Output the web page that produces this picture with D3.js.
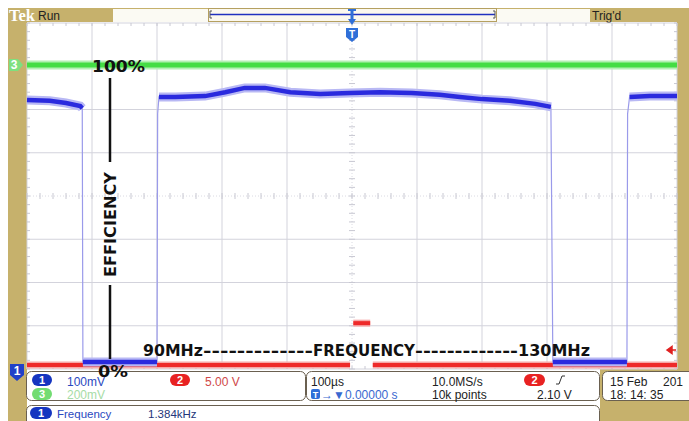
<!DOCTYPE html>
<html><head><meta charset="utf-8">
<script src="https://cdn.jsdelivr.net/npm/d3@7"></script>
<style>html,body{margin:0;padding:0;background:#fff;}svg{display:block;}</style>
</head><body>
<script>
// ---- data (time in µs, level in screen divisions) ----
const ch1Time = [0, 35, 60, 82, 85, 86, 200, 201, 203, 228, 274, 305, 335, 366, 405, 451, 497, 543, 592, 635, 666, 700, 743, 782, 806, 809, 923, 924, 927, 958, 1000];
const ch1Div  = [2.22, 2.20, 2.15, 2.08, 2.03, -3.84, -3.84, 1.9, 2.29, 2.29, 2.31, 2.40, 2.50, 2.50, 2.40, 2.36, 2.38, 2.40, 2.38, 2.34, 2.29, 2.24, 2.20, 2.13, 2.06, -3.84, -3.84, 1.9, 2.29, 2.31, 2.31];
const ch1Seg  = [0, 0, 0, 0, 0, 1, 1, -1, 2, 2, 2, 2, 2, 2, 2, 2, 2, 2, 2, 2, 2, 2, 2, 2, 2, 3, 3, -1, 4, 4, 4];
const ch2Time = [0, 497, 502, 528, 532, 1000];
const ch2Div  = [-3.91, -3.91, -2.94, -2.94, -3.91, -3.91];
const ch2Seg  = [0, 0, 1, 1, 2, 2];
const ch3Time = [0, 1000];
const ch3Div  = [3.03, 3.03];
const divX = [0, 100, 200, 300, 400, 500, 600, 700, 800, 900, 1000];
const divY = [-4, -3, -2, -1, 0, 1, 2, 3, 4];
const freqParts = ["90MHz", "-------------", "FREQUENCY", "-------------", "130MHz"];

const W = 689, H = 421;
const gold = "#c6b16c";
const svg = d3.select("body").append("svg").attr("width", W).attr("height", H);
const x = d3.scaleLinear().domain([0, 1000]).range([27, 677]);
const y = d3.scaleLinear().domain([-4, 4]).range([369, 23]);
const F = "'Liberation Sans', Arial, sans-serif";

// frame
svg.append("rect").attr("x", 8).attr("y", 8).attr("width", W - 8).attr("height", 14).attr("fill", gold);
svg.append("rect").attr("x", 8).attr("y", 8).attr("width", 19).attr("height", H - 8).attr("fill", gold);
svg.append("rect").attr("x", 677).attr("y", 8).attr("width", 12).attr("height", 364).attr("fill", gold);
svg.append("rect").attr("x", 600).attr("y", 369).attr("width", 89).attr("height", 52).attr("fill", gold);
// top bar boxes
svg.append("rect").attr("x", 113).attr("y", 9).attr("width", 95).attr("height", 13).attr("fill", "#fbfaf3");
svg.append("rect").attr("x", 208.5).attr("y", 8.5).attr("width", 288).attr("height", 13).attr("fill", "#fbf8ee").attr("stroke", "#b5a060");
svg.append("rect").attr("x", 497).attr("y", 9).attr("width", 93).attr("height", 13).attr("fill", "#fbfaf3");
svg.append("line").attr("x1", 210).attr("x2", 495).attr("y1", 14.5).attr("y2", 14.5).attr("stroke", "#2030c0").attr("stroke-width", 1.3);
svg.append("path").attr("d", "M212,11 L210,11 L210,18 L212,18 M493,11 L495,11 L495,18 L493,18").attr("fill", "none").attr("stroke", "#555").attr("stroke-width", 1);
svg.append("text").attr("x", 9).attr("y", 21).text("Tek").attr("font-family", "'Liberation Serif', serif").attr("font-weight", "bold").attr("font-size", 16).attr("fill", "#fff").attr("textLength", 26).attr("lengthAdjust", "spacingAndGlyphs");
svg.append("text").attr("x", 38).attr("y", 20).text("Run").attr("font-family", F).attr("font-size", 12).attr("fill", "#222");
svg.append("text").attr("x", 592).attr("y", 20).text("Trig'd").attr("font-family", F).attr("font-size", 12).attr("fill", "#222");

// plot area
svg.append("rect").attr("x", 27).attr("y", 23).attr("width", 650).attr("height", 346).attr("fill", "#fff");
const g = svg.append("g");
divX.forEach(d => {
  if (d === 500) return;
  g.append("line").attr("x1", x(d)).attr("x2", x(d)).attr("y1", y(4)).attr("y2", y(-4)).attr("stroke", "#d3d3dc").attr("stroke-width", 1);
});
divY.forEach(d => {
  if (d === 0) return;
  g.append("line").attr("x1", x(0)).attr("x2", x(1000)).attr("y1", y(d)).attr("y2", y(d)).attr("stroke", "#d3d3dc").attr("stroke-width", 1);
});
// center lines with minor ticks
g.append("line").attr("x1", x(500)).attr("x2", x(500)).attr("y1", y(4)).attr("y2", y(-4)).attr("stroke", "#dadae2").attr("stroke-dasharray", "1,2");
g.append("line").attr("x1", x(0)).attr("x2", x(1000)).attr("y1", y(0)).attr("y2", y(0)).attr("stroke", "#dadae2").attr("stroke-dasharray", "1,2");
const minorX = d3.range(0, 1001, 20), minorY = d3.range(-4, 4.01, 0.2);
minorX.forEach(d => {
  g.append("line").attr("x1", x(d)).attr("x2", x(d)).attr("y1", y(0) - 3).attr("y2", y(0) + 3).attr("stroke", "#c8c8d2");
  g.append("line").attr("x1", x(d)).attr("x2", x(d)).attr("y1", y(4)).attr("y2", y(4) + 3).attr("stroke", "#c8c8d2");
  g.append("line").attr("x1", x(d)).attr("x2", x(d)).attr("y1", y(-4) - 3).attr("y2", y(-4)).attr("stroke", "#c8c8d2");
});
minorY.forEach(d => {
  g.append("line").attr("x1", x(500) - 3).attr("x2", x(500) + 3).attr("y1", y(d)).attr("y2", y(d)).attr("stroke", "#c8c8d2");
  g.append("line").attr("x1", x(0)).attr("x2", x(0) + 3).attr("y1", y(d)).attr("y2", y(d)).attr("stroke", "#c8c8d2");
  g.append("line").attr("x1", x(1000) - 3).attr("x2", x(1000)).attr("y1", y(d)).attr("y2", y(d)).attr("stroke", "#c8c8d2");
});

const line = d3.line().x(d => x(d.t)).y(d => y(d.v));
function pts(T, V, S) { return T.map((t, i) => ({ t, v: V[i], s: S ? S[i] : 0 })); }
function segs(p) { return d3.groups(p.filter(d => d.s >= 0), d => d.s).map(e => e[1]); }

// ch2 red
const p2 = pts(ch2Time, ch2Div, ch2Seg);
segs(p2).forEach(s => {
  g.append("path").attr("d", line(s)).attr("fill", "none").attr("stroke", "#f6a8a8").attr("stroke-width", 7);
  g.append("path").attr("d", line(s)).attr("fill", "none").attr("stroke", "#ee2a2a").attr("stroke-width", 4);
});
// ch3 green
const p3 = pts(ch3Time, ch3Div);
g.append("path").attr("d", line(p3)).attr("fill", "none").attr("stroke", "#b4f0b4").attr("stroke-width", 9);
g.append("path").attr("d", line(p3)).attr("fill", "none").attr("stroke", "#44dd44").attr("stroke-width", 5);
// ch1 blue
const p1 = pts(ch1Time, ch1Div, ch1Seg);
g.append("path").attr("d", line(p1)).attr("fill", "none").attr("stroke", "#9a9aea").attr("stroke-width", 1.2);
segs(p1).forEach(s => {
  g.append("path").attr("d", line(s)).attr("fill", "none").attr("stroke", "#b8b8f4").attr("stroke-width", 9);
  g.append("path").attr("d", line(s)).attr("fill", "none").attr("stroke", "#2a2ade").attr("stroke-width", 4.5);
});

// markers
svg.append("path").attr("d", `M9,${y(3.03) - 6} L18,${y(3.03) - 6} L23,${y(3.03)} L18,${y(3.03) + 6} L9,${y(3.03) + 6} Z`).attr("fill", "#7ee07e");
svg.append("text").attr("x", 14).attr("y", y(3.03) + 4.5).text("3").attr("font-family", F).attr("font-weight", "bold").attr("font-size", 12).attr("fill", "#fff").attr("text-anchor", "middle");
svg.append("path").attr("d", "M10,364 L24,364 L24,375 L17,381 L10,375 Z").attr("fill", "#2040c8");
svg.append("text").attr("x", 17).attr("y", 375).text("1").attr("font-family", F).attr("font-weight", "bold").attr("font-size", 12).attr("fill", "#fff").attr("text-anchor", "middle");
svg.append("path").attr("d", "M667,350 L672,346.5 L672,353.5 Z M670,350 L676,350").attr("fill", "#e02020").attr("stroke", "#e02020").attr("stroke-width", 1.5);
svg.append("path").attr("d", "M348,9 L356,9 L356,11 L353.5,11 L353.5,19 L356,19 L352,25 L348,19 L350.5,19 L350.5,11 L348,11 Z").attr("fill", "#2f6fd8");
svg.append("path").attr("d", `M346,28 L358,28 L358,37 L352,42 L346,37 Z`).attr("fill", "#2f6fd8");
svg.append("text").attr("x", 352).attr("y", 38).text("T").attr("font-family", F).attr("font-weight", "bold").attr("font-size", 10).attr("fill", "#fff").attr("text-anchor", "middle");

// panels
svg.append("rect").attr("x", 26.5).attr("y", 371.5).attr("width", 279).attr("height", 29).attr("rx", 5).attr("fill", "#fff").attr("stroke", "#6a6050");
svg.append("rect").attr("x", 306.5).attr("y", 371.5).attr("width", 293).attr("height", 29).attr("rx", 5).attr("fill", "#fff").attr("stroke", "#6a6050");
svg.append("rect").attr("x", 602.5).attr("y", 371.5).attr("width", 92).attr("height", 29).attr("rx", 5).attr("fill", "#fff").attr("stroke", "#6a6050");
svg.append("rect").attr("x", 26.5).attr("y", 405.5).attr("width", 573).attr("height", 22).attr("rx", 5).attr("fill", "#fff").attr("stroke", "#6a6050");

function pill(px, py, w, h, fill, label) {
  svg.append("rect").attr("x", px).attr("y", py).attr("width", w).attr("height", h).attr("rx", h / 2).attr("fill", fill);
  svg.append("text").attr("x", px + w / 2).attr("y", py + h - 2.5).text(label).attr("font-family", F).attr("font-weight", "bold").attr("font-size", 11).attr("fill", "#fff").attr("text-anchor", "middle");
}
function txt(tx, ty, s, fill, fs) {
  return svg.append("text").attr("x", tx).attr("y", ty).text(s).attr("font-family", F).attr("font-size", fs || 12).attr("fill", fill);
}
pill(32, 374, 20, 12, "#1535c0", "1");
txt(67, 386, "100mV", "#2a48c0");
pill(170, 374, 20, 12, "#e82222", "2");
txt(205, 386, "5.00 V", "#d04848");
pill(32, 388, 20, 12, "#72dc72", "3");
txt(67, 399, "200mV", "#a6dca6");

txt(311, 386, "100µs", "#222");
svg.append("rect").attr("x", 311).attr("y", 389).attr("width", 9).attr("height", 10).attr("rx", 2).attr("fill", "#2f6fd8");
svg.append("text").attr("x", 315.5).attr("y", 397.5).text("T").attr("font-family", F).attr("font-weight", "bold").attr("font-size", 9).attr("fill", "#fff").attr("text-anchor", "middle");
txt(321, 399, "→▼0.00000 s", "#3a68d0");
txt(432, 386, "10.0MS/s", "#222");
txt(432, 399, "10k points", "#222");
pill(524, 374, 21, 12, "#e82222", "2");
svg.append("path").attr("d", "M556,384 L559,384 L562,376 L565,376").attr("fill", "none").attr("stroke", "#333").attr("stroke-width", 1);
txt(537, 399, "2.10 V", "#222");
txt(610, 386, "15 Feb", "#222");
txt(663, 386, "201", "#222");
txt(610, 399, "18: 14: 35", "#222");

pill(30, 407, 22, 12, "#1535c0", "1");
txt(57, 417.5, "Frequency", "#2a48c0", 11.5);
txt(148, 417.5, "1.384kHz", "#24367a", 11.5);

// annotations
const B = "'DejaVu Sans', Verdana, sans-serif";
svg.append("text").attr("x", 92).attr("y", 72).text("100%").attr("font-family", B).attr("font-weight", "bold").attr("font-size", 16).attr("fill", "#111").attr("textLength", 53).attr("lengthAdjust", "spacingAndGlyphs");
svg.append("line").attr("x1", 110).attr("x2", 110).attr("y1", 78).attr("y2", 162).attr("stroke", "#111").attr("stroke-width", 2.5);
svg.append("line").attr("x1", 110).attr("x2", 110).attr("y1", 285).attr("y2", 359).attr("stroke", "#111").attr("stroke-width", 2.5);
svg.append("text").attr("transform", "translate(116,277) rotate(-90)").text("EFFICIENCY").attr("font-family", B).attr("font-weight", "bold").attr("font-size", 15.5).attr("fill", "#111").attr("textLength", 105).attr("lengthAdjust", "spacingAndGlyphs");
svg.append("text").attr("x", 98).attr("y", 377).text("0%").attr("font-family", B).attr("font-weight", "bold").attr("font-size", 15).attr("fill", "#111").attr("textLength", 30).attr("lengthAdjust", "spacingAndGlyphs");
const partX = [143, 203, 313, 415, 518], partW = [60, 110, 102, 103, 72];
const ft = svg.append("text").attr("y", 356).attr("font-family", B).attr("font-weight", "bold").attr("font-size", 15).attr("fill", "#111");
freqParts.forEach((s, i) => {
  ft.append("tspan").attr("x", partX[i]).attr("textLength", partW[i]).attr("lengthAdjust", "spacingAndGlyphs").text(s);
});
</script>
</body></html>
